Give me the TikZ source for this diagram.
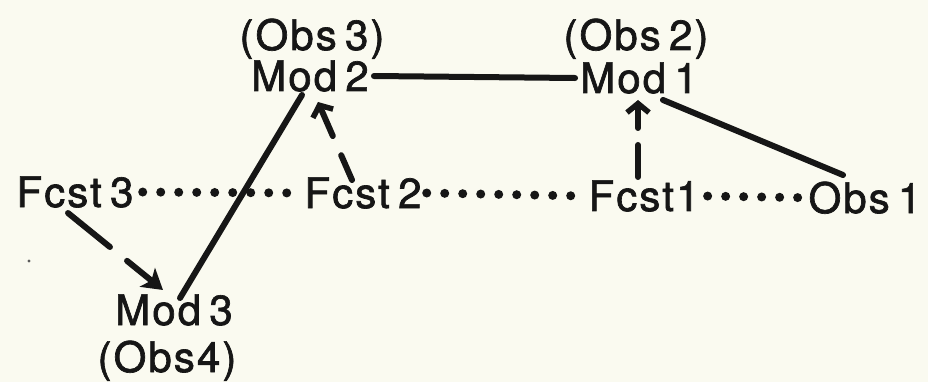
\documentclass[tikz,border=0pt]{standalone}
\usepackage{fontspec}
\setmainfont{TeX Gyre Heros}[LetterSpace=5,FakeBold=1.6,WordSpace=0.6]
\usetikzlibrary{calc,arrows.meta}
\definecolor{paper}{HTML}{FAFAF0}
\definecolor{ink}{HTML}{161616}
\begin{document}
\begin{tikzpicture}[x=1pt,y=-1pt,
  lbl/.style={anchor=base,inner sep=5pt,text=ink,font=\fontsize{42}{46}\selectfont},
  link/.style={draw=ink,line width=6pt,line cap=round},
  dots/.style={draw=ink,line width=9pt,line cap=round,dash pattern=on 0pt off 18pt},
  feed/.style={draw=ink,line width=6pt,line cap=round},
  barb/.style={-{Straight Barb[length=9pt,width=22pt,line width=5.5pt]}},
  solidtip/.style={-{Stealth[length=20pt,width=24pt,inset=5pt]}}]
  % page
  \fill[paper] (0,0) rectangle (928,382);
  \useasboundingbox (0,0) rectangle (928,382);

  % labels
  \node[lbl] (o3) at (312,50) {(Obs 3)};
  \node[lbl] (m2) at (310,91) {Mod 2};
  \node[lbl] (o2) at (636,50) {(Obs 2)};
  \node[lbl] (m1) at (639,93) {Mod 1};
  \node[lbl] (f3) at (75,207) {Fcst 3};
  \node[lbl] (f2) at (363,208) {Fcst 2};
  \node[lbl] (f1) at (644,211) {Fcst1};
  \node[lbl] (ob1) at (865,213) {Obs 1};
  \node[lbl] (m3) at (174,325) {Mod 3};
  \node[lbl] (o4) at (167,372) {(Obs4)};

  % solid links between models and observation
  \draw[link] (m2.east) -- (m1.west);
  \draw[link] ($(m1.base)+(24,7)$) -- ($(ob1.base)+(-22,-38)$);
  \draw[link] ($(m3.base)+(6,-27)$) -- ($(m2.base)+(-8,4)$);

  % dotted forecast chain
  \draw[dots,shorten <=4pt] (f3.east) -- (f2.west);
  \draw[dots] (f2.east) -- (f1.west);
  \draw[dots,shorten <=3pt] (f1.east) -- (ob1.west);

  % broken feed arrows from forecasts to models
  \draw[feed,solidtip,dash pattern=on 54pt off 22pt on 80pt]
    ($(f3.base)+(-7,6)$) -- ($(m3.base)+(-11,-35)$);
  \draw[feed,barb,dash pattern=on 27pt off 21pt on 80pt]
    ($(f2.base)+(-11,-28)$) -- ($(m2.base)+(8,11)$);
  \draw[feed,barb,dash pattern=on 32pt off 17pt on 80pt]
    ($(f1.base)+(-6,-34)$) -- ($(m1.base)+(-1,7)$);

  % stray speck
  \fill[ink!70] (29,261) circle (1.6);
\end{tikzpicture}
\end{document}
